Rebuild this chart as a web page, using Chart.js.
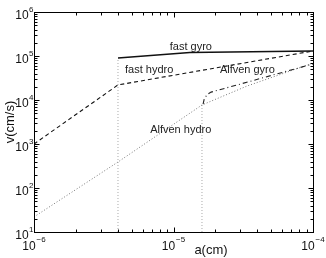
<!DOCTYPE html>
<html><head><meta charset="utf-8">
<script src="https://cdn.jsdelivr.net/npm/chart.js@4/dist/chart.umd.min.js"></script>
<style>html,body{margin:0;padding:0;background:#fff}canvas{display:block}</style>
</head><body>
<canvas id="c" width="326" height="258"></canvas>
<script>
// grain radius a (cm) and velocity v (cm/s)
const fastGyroA = [4.0e-6, 1.31e-5, 1.0e-4];
const fastGyroV = [9.0e4, 1.2e5, 1.3e5];
const fastHydroA = [1.0e-6, 4.0e-6, 1.0e-4];
const fastHydroV = [1.0e3, 2.2e4, 1.3e5];
const alfvenHydroA = [1.0e-6, 4.0e-6, 1.6e-5, 3.37e-5, 1.0e-4];
const alfvenHydroV = [22, 390, 7700, 2.08e4, 6.9e4];
const alfvenGyroA = [1.63e-5, 1.66e-5, 1.74e-5, 1.86e-5, 1.0e-4];
const alfvenGyroV = [8100, 1.05e4, 1.33e4, 1.51e4, 6.6e4];
const markerA = [4.0e-6, 1.6e-5];
const markerTopV = [9.0e4, 7700];
const xTickExps = [-6, -5, -4];
const yTickExps = [1, 2, 3, 4, 5, 6];
const curveLabels = ["fast gyro", "fast hydro", "Alfven gyro", "Alfven hydro"];
const curveLabelA = [9.4e-6, 4.49e-6, 2.15e-5, 6.8e-6];
const curveLabelV = [1.6e5, 4.8e4, 4.8e4, 2090];

const pts = (xs, ys) => xs.map((x, i) => ({x: x, y: ys[i]}));
const datasets = [
  {data: pts(fastGyroA, fastGyroV), borderColor: '#111', borderWidth: 1.3},
  {data: pts(fastHydroA, fastHydroV), borderColor: '#111', borderWidth: 1.1, borderDash: [4, 3]},
  {data: pts(alfvenGyroA, alfvenGyroV), borderColor: '#222', borderWidth: 1.1, borderDash: [5, 3, 1, 3]},
  {data: pts(alfvenHydroA, alfvenHydroV), borderColor: '#777', borderWidth: 1, borderDash: [1, 2]}
];
markerA.forEach((a, i) => datasets.push({data: [{x: a, y: 10}, {x: a, y: markerTopV[i]}], borderColor: '#aaa', borderWidth: 1, borderDash: [1, 2]}));
datasets.forEach(d => { d.pointRadius = 0; d.fill = false; d.tension = 0; });

const deco = {
  id: 'deco',
  afterDraw(chart) {
    const ctx = chart.ctx, xs = chart.scales.x, ys = chart.scales.y, ca = chart.chartArea;
    ctx.save();
    ctx.strokeStyle = '#000'; ctx.lineWidth = 1;
    const L = Math.round(ca.left) + 0.5, R = Math.round(ca.right) + 0.5, T = Math.round(ca.top) + 0.5, B = Math.round(ca.bottom) + 0.5;
    ctx.strokeRect(L, T, R - L, B - T);
    ctx.beginPath();
    // x ticks
    for (let e = xTickExps[0]; e < xTickExps[xTickExps.length - 1] + 1; e++) {
      for (let m = 1; m <= 9; m++) {
        const v = m * Math.pow(10, e);
        if (v > xs.max * 1.0001) break;
        const px = Math.round(xs.getPixelForValue(v)) + 0.5;
        const len = m === 1 ? 5 : 3;
        ctx.moveTo(px, B); ctx.lineTo(px, B - len);
        ctx.moveTo(px, T); ctx.lineTo(px, T + len);
      }
    }
    // y ticks
    for (let e = yTickExps[0]; e <= yTickExps[yTickExps.length - 1]; e++) {
      for (let m = 1; m <= 9; m++) {
        const v = m * Math.pow(10, e);
        if (v > ys.max * 1.0001) break;
        const py = Math.round(ys.getPixelForValue(v)) + 0.5;
        const len = m === 1 ? 5 : 3;
        ctx.moveTo(L, py); ctx.lineTo(L + len, py);
        ctx.moveTo(R, py); ctx.lineTo(R - len, py);
      }
    }
    ctx.stroke();
    ctx.fillStyle = '#111';
    const big = '12px "Liberation Sans", Arial, sans-serif', small = '8px "Liberation Sans", Arial, sans-serif';
    // y tick labels
    yTickExps.forEach(e => {
      const py = ys.getPixelForValue(Math.pow(10, e));
      ctx.font = small; ctx.textAlign = 'left'; ctx.textBaseline = 'alphabetic';
      const ew = ctx.measureText(String(e)).width;
      const ex = 33.5 - ew;
      ctx.fillText(String(e), ex, py - 0.5);
      ctx.font = big; ctx.textAlign = 'right';
      ctx.fillText('10', ex - 0.5, py + 6.5);
    });
    // x tick labels
    xTickExps.forEach(e => {
      const px = xs.getPixelForValue(Math.pow(10, e));
      const es = '\u2212' + String(-e);
      ctx.font = big; const w1 = ctx.measureText('10').width;
      ctx.font = small; const w2 = ctx.measureText(es).width;
      const x0 = px - (w1 + w2 + 1) / 2;
      ctx.textAlign = 'left';
      ctx.font = big; ctx.fillText('10', x0, 250);
      ctx.font = small; ctx.fillText(es, x0 + w1 + 1, 241.5);
    });
    // axis titles
    ctx.font = '13px "Liberation Sans", Arial, sans-serif';
    ctx.textAlign = 'center';
    ctx.fillText('a(cm)', 211, 254);
    ctx.save();
    ctx.translate(14, 122); ctx.rotate(-Math.PI / 2);
    ctx.fillText('v(cm/s)', 0, 0);
    ctx.restore();
    // curve labels
    ctx.font = '11px "Liberation Sans", Arial, sans-serif';
    ctx.textAlign = 'left'; ctx.textBaseline = 'middle'; ctx.fillStyle = '#222';
    curveLabels.forEach((t, i) => {
      ctx.fillText(t, xs.getPixelForValue(curveLabelA[i]), ys.getPixelForValue(curveLabelV[i]));
    });
    ctx.restore();
  }
};

new Chart(document.getElementById('c'), {
  type: 'line',
  data: {datasets: datasets},
  options: {
    responsive: false, animation: false,
    layout: {padding: {top: 12, right: 13, left: 0, bottom: 0}},
    plugins: {legend: {display: false}, tooltip: {enabled: false}},
    scales: {
      x: {type: 'logarithmic', min: 1e-6, max: 1e-4,
          grid: {display: false, drawTicks: false}, border: {display: false},
          ticks: {display: false},
          afterFit(s) { s.height = 26; }},
      y: {type: 'logarithmic', min: 10, max: 1e6,
          grid: {display: false, drawTicks: false}, border: {display: false},
          ticks: {display: false},
          afterFit(s) { s.width = 34; }}
    }
  },
  plugins: [deco]
});
</script>
</body></html>
